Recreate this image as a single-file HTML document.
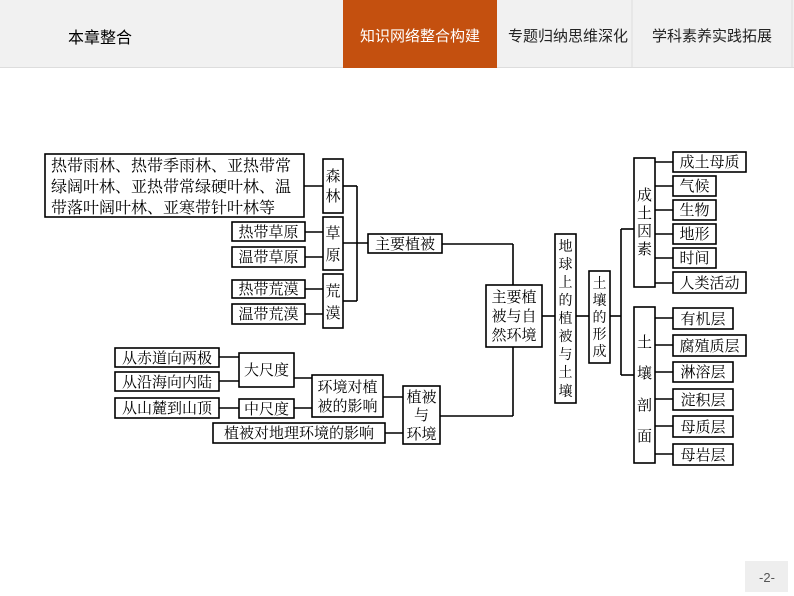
<!DOCTYPE html>
<html><head><meta charset="utf-8"><style>
body{margin:0;width:794px;height:596px;overflow:hidden;background:#fff;font-family:"Liberation Sans","Noto Sans CJK SC",sans-serif}
svg{position:absolute;left:0;top:0}
.t{font-family:"Liberation Serif","Noto Serif CJK SC",serif;font-size:15px;fill:#000}
.h{font-family:"Liberation Sans","Noto Sans CJK SC",sans-serif;font-size:15px}
rect.b{fill:#fff;stroke:#000;stroke-width:1.6}
line{stroke:#000;stroke-width:1.6}
</style></head><body>
<svg width="794" height="596" viewBox="0 0 794 596">
<rect x="0" y="0" width="794" height="67" fill="#f1f1f1"/>
<line x1="0" y1="67.5" x2="794" y2="67.5" style="stroke:#ddd;stroke-width:1"/>
<line x1="632" y1="0" x2="632" y2="67" style="stroke:#ddd;stroke-width:1"/>
<line x1="792" y1="0" x2="792" y2="67" style="stroke:#ddd;stroke-width:1"/>
<rect x="343" y="0" width="154" height="68" fill="#c4500f"/>
<text class="h" x="68" y="43" style="font-size:16px">本章整合</text>
<text class="h" x="420" y="41" text-anchor="middle" fill="#fff">知识网络整合构建</text>
<text class="h" x="568" y="41" text-anchor="middle" fill="#222">专题归纳思维深化</text>
<text class="h" x="712" y="41" text-anchor="middle" fill="#222">学科素养实践拓展</text>
<rect x="745" y="561" width="43" height="31" fill="#eee"/>
<text class="h" x="767" y="582" text-anchor="middle" style="font-size:13px" fill="#555">-2-</text>

<line x1="304" y1="186" x2="323" y2="186"/>
<line x1="305" y1="232" x2="323" y2="232"/>
<line x1="305" y1="257" x2="323" y2="257"/>
<line x1="305" y1="289" x2="323" y2="289"/>
<line x1="305" y1="314" x2="323" y2="314"/>
<line x1="343" y1="186" x2="357" y2="186"/>
<line x1="343" y1="243" x2="368" y2="243"/>
<line x1="343" y1="301" x2="357" y2="301"/>
<line x1="357" y1="186" x2="357" y2="301"/>
<line x1="442" y1="244" x2="513" y2="244"/>
<line x1="513" y1="244" x2="513" y2="416"/>
<line x1="440" y1="416" x2="513" y2="416"/>
<line x1="219" y1="357" x2="239" y2="357"/>
<line x1="219" y1="381" x2="239" y2="381"/>
<line x1="219" y1="408" x2="239" y2="408"/>
<line x1="294" y1="378" x2="312" y2="378"/>
<line x1="294" y1="408" x2="312" y2="408"/>
<line x1="383" y1="397" x2="403" y2="397"/>
<line x1="385" y1="433" x2="403" y2="433"/>
<line x1="542" y1="316" x2="555" y2="316"/>
<line x1="576" y1="316" x2="589" y2="316"/>
<line x1="610" y1="316" x2="621" y2="316"/>
<line x1="621" y1="229" x2="621" y2="375"/>
<line x1="621" y1="229" x2="634" y2="229"/>
<line x1="621" y1="375" x2="634" y2="375"/>
<line x1="655" y1="162" x2="673" y2="162"/>
<line x1="655" y1="186" x2="673" y2="186"/>
<line x1="655" y1="210" x2="673" y2="210"/>
<line x1="655" y1="234" x2="673" y2="234"/>
<line x1="655" y1="258" x2="673" y2="258"/>
<line x1="655" y1="283" x2="673" y2="283"/>
<line x1="655" y1="318" x2="673" y2="318"/>
<line x1="655" y1="345" x2="673" y2="345"/>
<line x1="655" y1="372" x2="673" y2="372"/>
<line x1="655" y1="399" x2="673" y2="399"/>
<line x1="655" y1="426" x2="673" y2="426"/>
<line x1="655" y1="454" x2="673" y2="454"/>

<rect class="b" x="45" y="154" width="259" height="63"/>
<text class="t" x="51" y="171" style="font-size:16px">热带雨林、热带季雨林、亚热带常</text>
<text class="t" x="51" y="192" style="font-size:16px">绿阔叶林、亚热带常绿硬叶林、温</text>
<text class="t" x="51" y="213" style="font-size:16px">带落叶阔叶林、亚寒带针叶林等</text>

<rect class="b" x="323" y="159" width="20" height="54"/>
<text class="t" text-anchor="middle"><tspan x="333" y="181">森</tspan><tspan x="333" y="201">林</tspan></text>
<rect class="b" x="323" y="217" width="20" height="53"/>
<text class="t" text-anchor="middle"><tspan x="333" y="238">草</tspan><tspan x="333" y="260">原</tspan></text>
<rect class="b" x="323" y="274" width="20" height="54"/>
<text class="t" text-anchor="middle"><tspan x="333" y="296">荒</tspan><tspan x="333" y="318">漠</tspan></text>

<rect class="b" x="232" y="222" width="73" height="19"/><text class="t" x="268.5" y="237" text-anchor="middle">热带草原</text>
<rect class="b" x="232" y="247" width="73" height="20"/><text class="t" x="268.5" y="262" text-anchor="middle">温带草原</text>
<rect class="b" x="232" y="280" width="73" height="18"/><text class="t" x="268.5" y="294" text-anchor="middle">热带荒漠</text>
<rect class="b" x="232" y="304" width="73" height="20"/><text class="t" x="268.5" y="319" text-anchor="middle">温带荒漠</text>

<rect class="b" x="368" y="234" width="74" height="19"/><text class="t" x="405" y="249" text-anchor="middle">主要植被</text>

<rect class="b" x="115" y="348" width="104" height="19"/><text class="t" x="167" y="363" text-anchor="middle">从赤道向两极</text>
<rect class="b" x="115" y="372" width="104" height="19"/><text class="t" x="167" y="387" text-anchor="middle">从沿海向内陆</text>
<rect class="b" x="115" y="398" width="104" height="20"/><text class="t" x="167" y="413" text-anchor="middle">从山麓到山顶</text>
<rect class="b" x="239" y="353" width="55" height="34"/><text class="t" x="266.5" y="375" text-anchor="middle">大尺度</text>
<rect class="b" x="239" y="399" width="55" height="19"/><text class="t" x="266.5" y="414" text-anchor="middle">中尺度</text>
<rect class="b" x="312" y="375" width="71" height="42"/>
<text class="t" x="347.5" y="392" text-anchor="middle">环境对植</text>
<text class="t" x="347.5" y="411" text-anchor="middle">被的影响</text>
<rect class="b" x="213" y="423" width="172" height="20"/><text class="t" x="299" y="438" text-anchor="middle">植被对地理环境的影响</text>
<rect class="b" x="403" y="386" width="37" height="58"/>
<text class="t" text-anchor="middle"><tspan x="421.5" y="402">植被</tspan><tspan x="421.5" y="420">与</tspan><tspan x="421.5" y="439">环境</tspan></text>

<rect class="b" x="486" y="285" width="56" height="62"/>
<text class="t" text-anchor="middle"><tspan x="514" y="302">主要植</tspan><tspan x="514" y="321">被与自</tspan><tspan x="514" y="340">然环境</tspan></text>

<rect class="b" x="555" y="234" width="21" height="169"/>
<text class="t" text-anchor="middle" style="font-size:14px"><tspan x="565.5" y="251">地</tspan><tspan x="565.5" y="269">球</tspan><tspan x="565.5" y="287">上</tspan><tspan x="565.5" y="305">的</tspan><tspan x="565.5" y="323">植</tspan><tspan x="565.5" y="341">被</tspan><tspan x="565.5" y="359">与</tspan><tspan x="565.5" y="377">土</tspan><tspan x="565.5" y="396">壤</tspan></text>

<rect class="b" x="589" y="271" width="21" height="92"/>
<text class="t" text-anchor="middle" style="font-size:14px"><tspan x="599.5" y="288">土</tspan><tspan x="599.5" y="305">壤</tspan><tspan x="599.5" y="322">的</tspan><tspan x="599.5" y="339">形</tspan><tspan x="599.5" y="356">成</tspan></text>

<rect class="b" x="634" y="158" width="21" height="129"/>
<text class="t" text-anchor="middle"><tspan x="644.5" y="200">成</tspan><tspan x="644.5" y="218">土</tspan><tspan x="644.5" y="236">因</tspan><tspan x="644.5" y="254">素</tspan></text>
<rect class="b" x="634" y="307" width="21" height="156"/>
<text class="t" text-anchor="middle"><tspan x="644.5" y="347">土</tspan><tspan x="644.5" y="378">壤</tspan><tspan x="644.5" y="410">剖</tspan><tspan x="644.5" y="441">面</tspan></text>

<rect class="b" x="673" y="152" width="73" height="20"/><text class="t" x="709.5" y="167" text-anchor="middle">成土母质</text>
<rect class="b" x="673" y="176" width="43" height="20"/><text class="t" x="694.5" y="191" text-anchor="middle">气候</text>
<rect class="b" x="673" y="200" width="43" height="20"/><text class="t" x="694.5" y="215" text-anchor="middle">生物</text>
<rect class="b" x="673" y="224" width="43" height="20"/><text class="t" x="694.5" y="239" text-anchor="middle">地形</text>
<rect class="b" x="673" y="248" width="43" height="20"/><text class="t" x="694.5" y="263" text-anchor="middle">时间</text>
<rect class="b" x="673" y="272" width="73" height="21"/><text class="t" x="709.5" y="288" text-anchor="middle">人类活动</text>

<rect class="b" x="673" y="308" width="60" height="21"/><text class="t" x="703" y="324" text-anchor="middle">有机层</text>
<rect class="b" x="673" y="335" width="73" height="21"/><text class="t" x="709.5" y="351" text-anchor="middle">腐殖质层</text>
<rect class="b" x="673" y="362" width="60" height="20"/><text class="t" x="703" y="377" text-anchor="middle">淋溶层</text>
<rect class="b" x="673" y="389" width="60" height="21"/><text class="t" x="703" y="405" text-anchor="middle">淀积层</text>
<rect class="b" x="673" y="416" width="60" height="21"/><text class="t" x="703" y="432" text-anchor="middle">母质层</text>
<rect class="b" x="673" y="444" width="60" height="21"/><text class="t" x="703" y="460" text-anchor="middle">母岩层</text>
</svg>
</body></html>
